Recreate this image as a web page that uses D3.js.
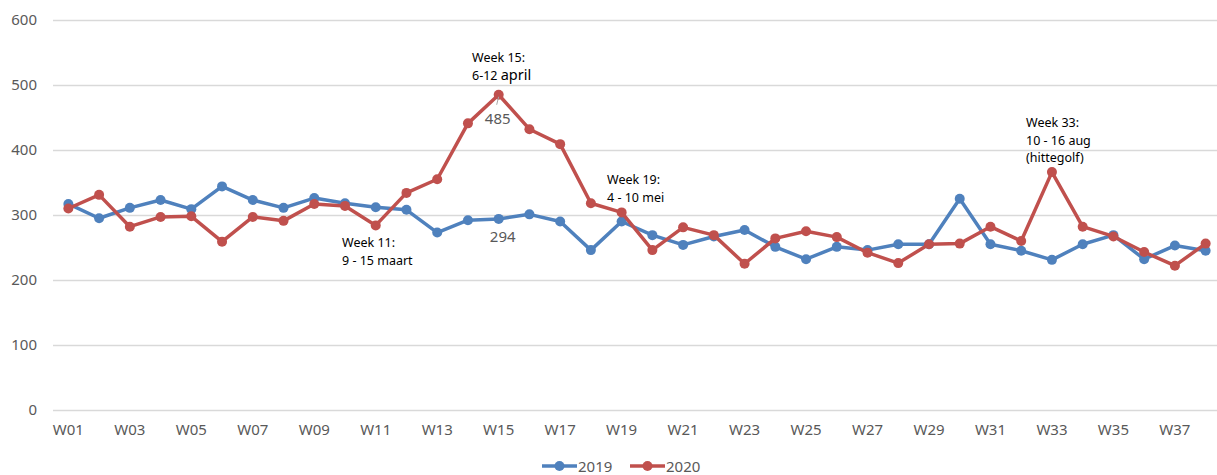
<!DOCTYPE html>
<html>
<head>
<meta charset="utf-8">
<script src="https://cdn.jsdelivr.net/npm/d3@7"></script>
<style>
  body { margin: 0; background: #fff; }
  .chart text { font-family: "Noto Sans", "Liberation Sans", sans-serif; }
</style>
</head>
<body>
<div class="chart"></div>
<script>
// weken W01..W38
const weeks = d3.range(1, 39).map(d => "W" + String(d).padStart(2, "0"));
const yTicks = [0, 100, 200, 300, 400, 500, 600];

const data2019 = [317, 295, 311, 323, 309, 344, 323, 311, 326, 318, 312, 308,
                  273, 292, 294, 301, 290, 246, 290, 269, 254, 267, 277, 251,
                  232, 251, 246, 255, 255, 325, 255, 245, 231, 255, 269, 232,
                  253, 245];
const data2020 = [310, 331, 282, 297, 298, 259, 297, 291, 317, 314, 284, 334,
                  355, 441, 485, 432, 409, 318, 304, 246, 281, 269, 225, 264,
                  275, 266, 242, 226, 255, 256, 282, 260, 366, 282, 267, 243,
                  222, 256];

const series = [
    {name: "2019", values: data2019, color: "#4F81BD"},
    {name: "2020", values: data2020, color: "#C0504D"}
];

// annotaties
const notes = [
    {lines: ["Week 11:", "9 - 15 maart"], x: 342, y: 243},
    {lines: ["Week 15:", "6-12 april"], x: 472, y: 58},
    {lines: ["Week 19:", "4 - 10 mei"], x: 607, y: 180},
    {lines: ["Week  33:", "10 - 16 aug", "(hittegolf)"], x: 1026, y: 123}
];

const width = 1217, height = 475;
const mLeft = 53, mRight = 1221, mTop = 20, mBottom = 410;

const svg = d3.select(".chart")
    .append("svg")
    .attr("width", width)
    .attr("height", height);

const xScale = d3.scaleBand()
    .domain(weeks)
    .range([mLeft, mRight]);

const yScale = d3.scaleLinear()
    .domain([0, 600])
    .range([mBottom, mTop]);

const cx = d => xScale(d) + xScale.bandwidth() / 2;

// rasterlijnen + y-as
const yAxis = d3.axisLeft(yScale)
    .tickValues(yTicks)
    .tickSize(-(mRight - mLeft))
    .tickPadding(16);

const gy = svg.append("g")
    .attr("transform", "translate(" + mLeft + ",0)")
    .call(yAxis);
gy.select(".domain").remove();
gy.selectAll(".tick line")
    .attr("stroke", "#d9d9d9")
    .attr("stroke-width", 1.5);
gy.selectAll(".tick text")
    .attr("fill", "#595959")
    .style("font-size", "15px");

// x-as
const xAxis = d3.axisBottom(xScale)
    .tickValues(weeks.filter((d, i) => i % 2 === 0))
    .tickSize(0)
    .tickPadding(14);

const gx = svg.append("g")
    .attr("transform", "translate(0," + mBottom + ")")
    .call(xAxis);
gx.select(".domain").remove();
gx.selectAll(".tick text")
    .attr("fill", "#595959")
    .style("font-size", "15px");

// lijnen
const line = d3.line()
    .x((d, i) => cx(weeks[i]))
    .y(d => yScale(d));

series.forEach(s => {
    svg.append("path")
        .datum(s.values)
        .attr("fill", "none")
        .attr("stroke", s.color)
        .attr("stroke-width", 3.5)
        .attr("stroke-linejoin", "round")
        .attr("d", line);

    svg.append("g").selectAll("circle")
        .data(s.values)
        .enter()
        .append("circle")
        .attr("cx", (d, i) => cx(weeks[i]))
        .attr("cy", d => yScale(d))
        .attr("r", 5)
        .attr("fill", s.color);
});

// datalabels W15
const w15 = weeks[14];
svg.append("line")
    .attr("x1", cx(w15)).attr("y1", yScale(data2020[14]) + 2)
    .attr("x2", cx(w15) - 2).attr("y2", yScale(data2020[14]) + 10)
    .attr("stroke", "#a6a6a6")
    .attr("stroke-width", 1);
svg.append("text")
    .attr("x", cx(w15) - 1)
    .attr("y", yScale(data2020[14]) + 29)
    .attr("text-anchor", "middle")
    .attr("fill", "#595959")
    .style("font-size", "15px")
    .text(data2020[14]);
svg.append("text")
    .attr("x", cx(w15) + 4)
    .attr("y", yScale(data2019[14]) + 23)
    .attr("text-anchor", "middle")
    .attr("fill", "#595959")
    .style("font-size", "15px")
    .text(data2019[14]);

// annotaties
notes.forEach(n => {
    const t = svg.append("text")
        .attr("x", n.x)
        .attr("y", n.y + 4)
        .attr("fill", "#000")
        .style("font-size", "12.5px");
    n.lines.forEach((l, i) => {
        const ts = t.append("tspan")
            .attr("x", n.x)
            .attr("dy", i === 0 ? 0 : 17.5);
        if (l === "6-12 april") {
            ts.append("tspan").text("6-12 ");
            ts.append("tspan").style("font-size", "14.5px").text("april");
        } else {
            ts.text(l);
        }
    });
});

// legenda
const legend = svg.append("g").attr("transform", "translate(542,466)");
series.forEach((s, i) => {
    const g = legend.append("g").attr("transform", "translate(" + (i * 88) + ",0)");
    g.append("line")
        .attr("x1", 0).attr("x2", 35)
        .attr("stroke", s.color)
        .attr("stroke-width", 3.5);
    g.append("circle")
        .attr("cx", 17.5).attr("r", 5)
        .attr("fill", s.color);
    g.append("text")
        .attr("x", 36)
        .attr("y", 5.5)
        .attr("fill", "#595959")
        .style("font-size", "15px")
        .text(s.name);
});
</script>
</body>
</html>
